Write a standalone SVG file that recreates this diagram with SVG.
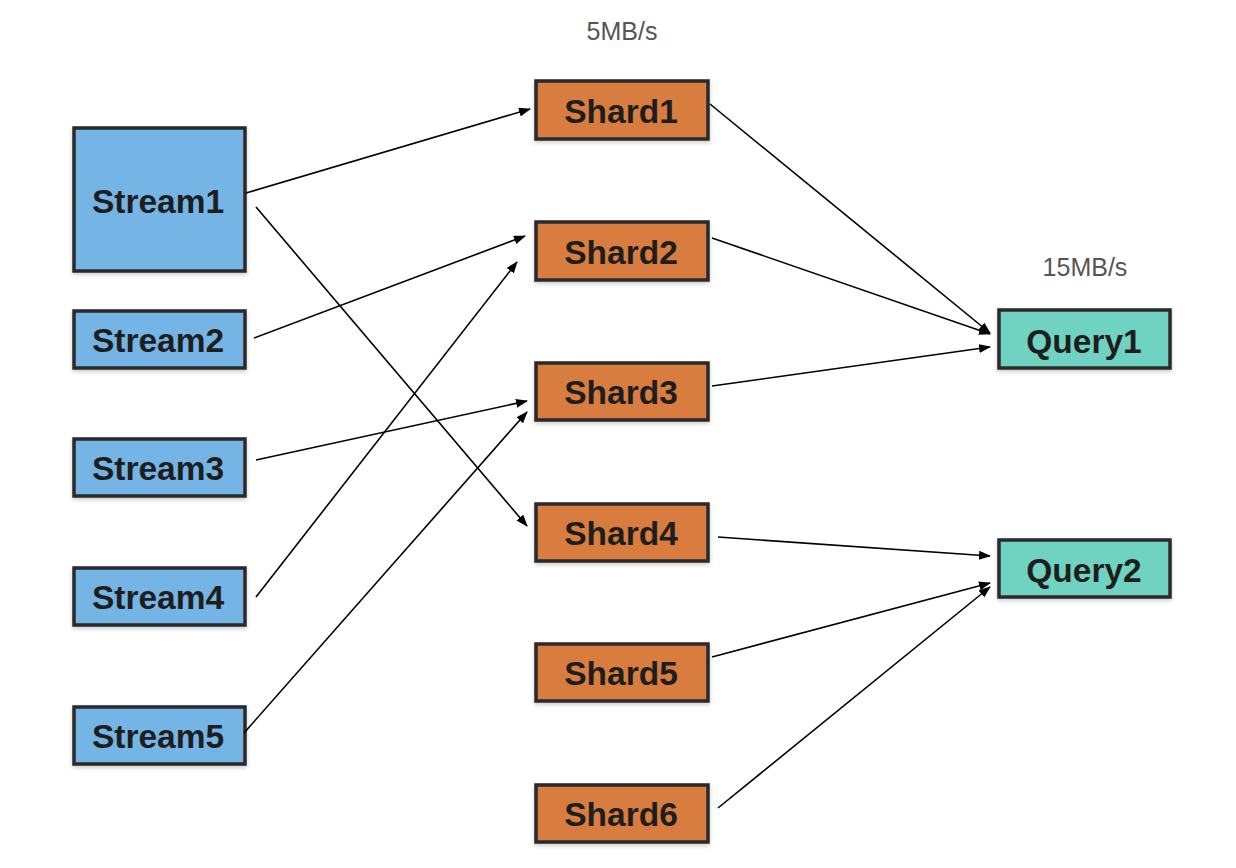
<svg xmlns="http://www.w3.org/2000/svg" width="1236" height="868" viewBox="0 0 1236 868">
<defs>
<marker id="ah" markerWidth="12" markerHeight="9" refX="11" refY="4.5" orient="auto" markerUnits="userSpaceOnUse">
<path d="M0,0 L12,4.5 L0,9 Z" fill="#000"/>
</marker>
<filter id="sh" x="-10%" y="-10%" width="120%" height="130%">
<feDropShadow dx="0" dy="2" stdDeviation="2" flood-color="#000" flood-opacity="0.2"/>
</filter>
</defs>
<style>
.box{stroke:#2a2a2a;stroke-width:3.5;filter:url(#sh)}
.s{fill:#75b5e5}
.d{fill:#d87b40}
.q{fill:#6fd3c1}
.t{font-family:"Liberation Sans",Arial,sans-serif;font-weight:bold;font-size:33.5px;fill:#1e1e1e;text-anchor:middle;dominant-baseline:central}
.lbl{font-family:"Liberation Sans",Arial,sans-serif;font-size:25px;fill:#555;text-anchor:middle}
.c line{stroke:#000;stroke-width:1.6;marker-end:url(#ah)}
</style>
<rect width="1236" height="868" fill="#fff"/>
<text class="lbl" x="622" y="40">5MB/s</text>
<text class="lbl" x="1085" y="276">15MB/s</text>
<g id="stream1"><rect class="box s" x="74" y="128" width="171" height="143"/><text class="t" x="158" y="201">Stream1</text></g>
<g id="stream2"><rect class="box s" x="74" y="311" width="171" height="57"/><text class="t" x="158" y="340">Stream2</text></g>
<g id="stream3"><rect class="box s" x="74" y="439" width="171" height="57"/><text class="t" x="158" y="468">Stream3</text></g>
<g id="stream4"><rect class="box s" x="74" y="568" width="171" height="57"/><text class="t" x="158" y="597">Stream4</text></g>
<g id="stream5"><rect class="box s" x="74" y="707" width="171" height="57"/><text class="t" x="158" y="736">Stream5</text></g>
<g id="shard1"><rect class="box d" x="536" y="81" width="172" height="58"/><text class="t" x="621" y="111">Shard1</text></g>
<g id="shard2"><rect class="box d" x="536" y="222" width="172" height="58"/><text class="t" x="621" y="252">Shard2</text></g>
<g id="shard3"><rect class="box d" x="536" y="363" width="172" height="57"/><text class="t" x="621" y="392">Shard3</text></g>
<g id="shard4"><rect class="box d" x="536" y="504" width="172" height="57"/><text class="t" x="621" y="533">Shard4</text></g>
<g id="shard5"><rect class="box d" x="536" y="644" width="172" height="57"/><text class="t" x="621" y="673">Shard5</text></g>
<g id="shard6"><rect class="box d" x="536" y="785" width="172" height="57"/><text class="t" x="621" y="814">Shard6</text></g>
<g id="query1"><rect class="box q" x="999" y="310" width="171" height="58"/><text class="t" x="1084" y="341">Query1</text></g>
<g id="query2"><rect class="box q" x="999" y="540" width="171" height="57"/><text class="t" x="1084" y="570">Query2</text></g>
<g class="c" id="connectors">
<line x1="246" y1="193" x2="530" y2="109"/>
<line x1="256" y1="207" x2="527" y2="526"/>
<line x1="254" y1="338" x2="525" y2="236"/>
<line x1="256" y1="460" x2="527" y2="401"/>
<line x1="256" y1="597" x2="517" y2="262"/>
<line x1="244" y1="733" x2="527" y2="412"/>
<line x1="710" y1="104" x2="990" y2="333"/>
<line x1="712" y1="238" x2="990" y2="334"/>
<line x1="712" y1="386" x2="990" y2="347"/>
<line x1="718" y1="537" x2="990" y2="556"/>
<line x1="712" y1="657" x2="990" y2="583"/>
<line x1="718" y1="808" x2="990" y2="587"/>
</g>
</svg>
